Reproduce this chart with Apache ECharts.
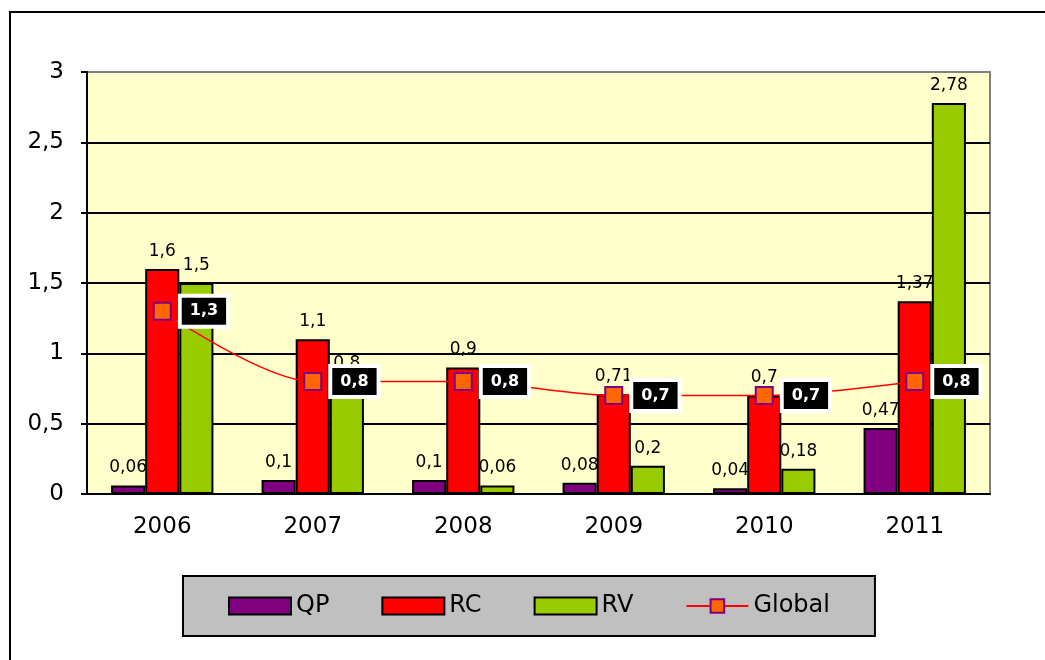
<!DOCTYPE html>
<html>
<head>
<meta charset="utf-8">
<script src="https://cdn.jsdelivr.net/npm/echarts@6/dist/echarts.min.js"></script>
<style>
  html, body { margin: 0; padding: 0; background: #fff; }
  #chart { width: 1045px; height: 660px; }
</style>
</head>
<body>
<div id="chart"></div>
<script>
// données du graphique
const years = ['2006', '2007', '2008', '2009', '2010', '2011'];
const qp = [0.06, 0.1, 0.1, 0.08, 0.04, 0.47];
const rc = [1.6, 1.1, 0.9, 0.71, 0.7, 1.37];
const rv = [1.5, 0.8, 0.06, 0.2, 0.18, 2.78];
const globalVals = [1.3, 0.8, 0.8, 0.7, 0.7, 0.8];

const FONT = 'DejaVu Sans';
// virgule décimale
const comma = v => String(v).replace('.', ',');

const barLabel = {
  show: true,
  position: 'top',
  distance: 9,
  color: '#000',
  fontFamily: FONT,
  fontSize: 17,
  formatter: p => comma(p.value)
};

function barSeries(name, data, color) {
  return {
    name: name,
    type: 'bar',
    data: data,
    barGap: 0,
    barCategoryGap: '32%',
    itemStyle: { color: color, borderColor: '#000', borderWidth: 2 },
    label: barLabel
  };
}

let myChart = echarts.init(document.getElementById('chart'));
let options = {
  animation: false,
  graphic: [{
    type: 'rect',
    shape: { x: 10, y: 12, width: 1100, height: 700 },
    style: { fill: 'none', stroke: '#000', lineWidth: 2 },
    silent: true
  }],
  grid: {
    left: 87, right: 55, top: 72, bottom: 166,
    show: true,
    backgroundColor: '#FFFFCC',
    borderColor: '#808080',
    borderWidth: 2
  },
  legend: {
    left: 183,
    top: 576,
    padding: [18, 45, 18, 45],
    backgroundColor: '#C0C0C0',
    borderColor: '#000',
    borderWidth: 2,
    itemWidth: 62,
    itemHeight: 17,
    itemGap: 52,
    textStyle: { color: '#000', fontFamily: FONT, fontSize: 24 },
    data: [
      { name: 'QP', icon: 'rect' },
      { name: 'RC', icon: 'rect' },
      { name: 'RV', icon: 'rect' },
      { name: 'Global' }
    ]
  },
  xAxis: {
    type: 'category',
    data: years,
    axisLine: { lineStyle: { color: '#000', width: 2 } },
    axisTick: { length: 7, lineStyle: { color: '#000', width: 2 } },
    axisLabel: { color: '#000', fontFamily: FONT, fontSize: 23, margin: 22 }
  },
  yAxis: {
    type: 'value',
    min: 0,
    max: 3,
    interval: 0.5,
    axisLine: { show: true, lineStyle: { color: '#000', width: 2 } },
    axisTick: { show: true, length: 6, lineStyle: { color: '#000', width: 2 } },
    axisLabel: { color: '#000', fontFamily: FONT, fontSize: 23, margin: 23, formatter: comma },
    splitLine: { show: true, showMaxLine: false, lineStyle: { color: '#000', width: 2 } }
  },
  series: [
    barSeries('QP', qp, '#800080'),
    barSeries('RC', rc, '#FF0000'),
    barSeries('RV', rv, '#99CC00'),
    {
      name: 'Global',
      type: 'line',
      data: globalVals,
      z: 5,
      smooth: 0.3,
      symbol: 'rect',
      symbolSize: 17,
      lineStyle: { color: '#FF0000', width: 1.5 },
      itemStyle: { color: '#FF6600', borderColor: '#800080', borderWidth: 2 },
      label: {
        show: true,
        position: 'right',
        distance: 10,
        color: '#fff',
        fontFamily: FONT,
        fontSize: 16,
        fontWeight: 'bold',
        backgroundColor: '#000',
        borderColor: '#fff',
        borderWidth: 4,
        padding: [6, 8, 5, 8],
        formatter: p => comma(p.value)
      }
    }
  ]
};
myChart.setOption(options);
</script>
</body>
</html>
